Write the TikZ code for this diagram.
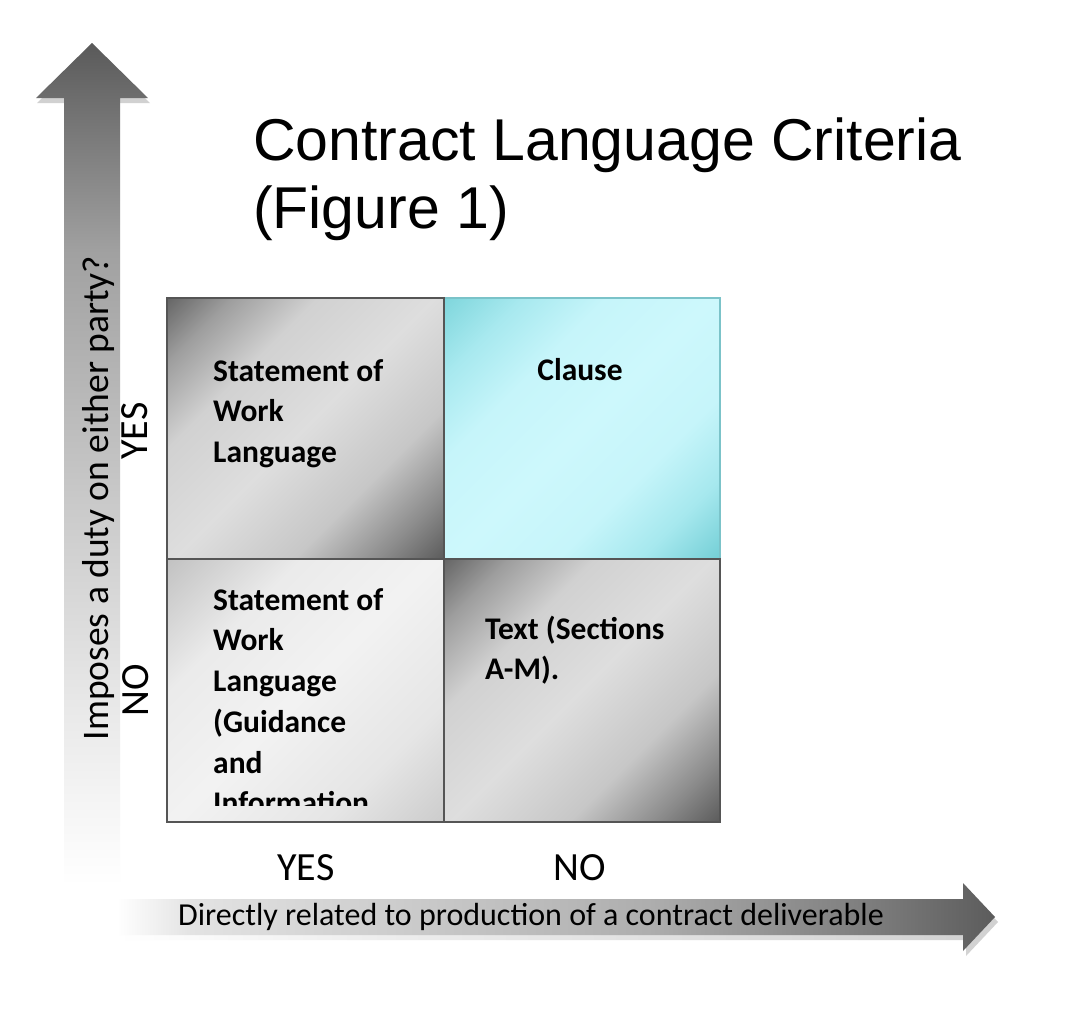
\documentclass[tikz,border=0pt]{standalone}
\usepackage{fontspec}
\setmainfont{Carlito}
\newfontfamily\titlefont{Liberation Sans}

\definecolor{vA}{gray}{0.91}
\definecolor{vB}{gray}{0.79}
\definecolor{vC}{gray}{0.63}
\definecolor{vD}{gray}{0.43}
\definecolor{vE}{gray}{0.35}
\definecolor{hA}{gray}{0.89}
\definecolor{hB}{gray}{0.80}
\definecolor{hC}{gray}{0.68}
\definecolor{hD}{gray}{0.48}
\definecolor{hE}{gray}{0.36}
\definecolor{sA}{gray}{0.93}
\definecolor{sB}{gray}{0.82}
\definecolor{g0}{gray}{0.36}
\definecolor{g1}{gray}{0.55}
\definecolor{g2}{gray}{0.78}
\definecolor{g3}{gray}{0.87}
\definecolor{g4}{gray}{0.82}
\definecolor{g5}{gray}{0.62}
\definecolor{g6}{gray}{0.40}
\definecolor{l0}{gray}{0.80}
\definecolor{l1}{gray}{0.90}
\definecolor{l2}{gray}{0.95}
\definecolor{l3}{gray}{0.92}
\definecolor{l4}{gray}{0.76}
\definecolor{c0}{HTML}{74CFD6}
\definecolor{c1}{HTML}{A6E8EE}
\definecolor{c2}{HTML}{C6F5FA}
\definecolor{c3}{HTML}{CDF8FC}
\definecolor{c4}{HTML}{A8E9EF}
\definecolor{c5}{HTML}{7FD6DC}
\definecolor{tealborder}{HTML}{7BC3C9}
\definecolor{cellborder}{HTML}{555555}
\definecolor{headshadow}{gray}{0.82}

\pgfdeclareverticalshading{varrowshade}{100bp}{color(0bp)=(white); color(25bp)=(white); color(35.8bp)=(vA); color(47.7bp)=(vB); color(62.6bp)=(vC); color(71.7bp)=(vD); color(75bp)=(vE); color(100bp)=(vE)}
\pgfdeclarehorizontalshading{harrowshade}{100bp}{color(0bp)=(white); color(25bp)=(white); color(29.2bp)=(hA); color(41.1bp)=(hB); color(55.4bp)=(hC); color(68.5bp)=(hD); color(75bp)=(hE); color(100bp)=(hE)}
\pgfdeclarehorizontalshading{hshadowshade}{100bp}{color(0bp)=(white); color(25bp)=(white); color(40bp)=(sA); color(75bp)=(sB); color(100bp)=(sB)}
\pgfdeclareverticalshading{grayshade}{100bp}{color(0bp)=(g0); color(14.6bp)=(g0); color(23.1bp)=(g1); color(34.4bp)=(g2); color(50bp)=(g3); color(65.6bp)=(g4); color(76.9bp)=(g5); color(85.4bp)=(g6); color(100bp)=(g6)}
\pgfdeclareverticalshading{lightshade}{100bp}{color(0bp)=(l0); color(14.6bp)=(l0); color(30bp)=(l1); color(50bp)=(l2); color(68bp)=(l3); color(85.4bp)=(l4); color(100bp)=(l4)}
\pgfdeclareverticalshading{cyanshade}{100bp}{color(0bp)=(c0); color(14.6bp)=(c0); color(25bp)=(c1); color(36bp)=(c2); color(50bp)=(c3); color(64bp)=(c2); color(75bp)=(c4); color(85.4bp)=(c5); color(100bp)=(c5)}

\newcommand\tstrut[1]{\rule{0pt}{#1}}

\tikzset{
  graycell/.style={shading=grayshade, shading angle=45, draw=cellborder, line width=2.5pt},
  lightcell/.style={shading=lightshade, shading angle=45, draw=cellborder, line width=2.5pt},
  cyancell/.style={shading=cyanshade, shading angle=45, draw=tealborder, line width=2pt},
  celltext/.style={font=\fontsize{31.5}{40.7}\selectfont\bfseries, align=left, anchor=north west, inner sep=0pt},
  axisvalue/.style={font=\fontsize{40}{48}\selectfont, inner sep=0pt},
  axislabel/.style={font=\fontsize{37.5}{45}\selectfont, inner sep=0pt},
  titletext/.style={font=\titlefont\fontsize{59}{68}\selectfont, align=left, anchor=north west, inner sep=0pt}
}

\begin{document}
\begin{tikzpicture}[x=1pt,y=-1pt]
\useasboundingbox[fill=white] (0,0) rectangle (1088,1012);

% vertical arrow
\fill[headshadow] (93,48) -- (150,103) -- (37,103) -- cycle;
\shade[shading=varrowshade] (92,43) -- (148,98) -- (120,98) -- (120,885) -- (64,885) -- (64,98) -- (36,98) -- cycle;

% horizontal arrow
\shade[shading=hshadowshade] (117,904) -- (966,904) -- (966,888) -- (998,922) -- (966,956) -- (966,940) -- (117,940) -- cycle;
\shade[shading=harrowshade] (117,899) -- (963,899) -- (963,883) -- (995,917) -- (963,951) -- (963,935) -- (117,935) -- cycle;

% title
\node[titletext] (title) at (253,110) {\tstrut{50pt}Contract Language Criteria\\(Figure 1)};

% cells
\shade[cyancell] (444,298) rectangle (720,559);
\shade[graycell] (167,298) rectangle (444,559);
\shade[lightcell] (167,559) rectangle (444,822);
\shade[graycell] (444,559) rectangle (720,822);

\node[celltext] (sow) at (213,353) {\tstrut{28pt}Statement of\\Work\\Language};
\node[celltext, anchor=north] (clause) at (580,352) {\tstrut{28pt}Clause};
\begin{scope}
  \clip (169,561) rectangle (442,805);
  \node[celltext] (sowguide) at (213,582) {\tstrut{28pt}Statement of\\Work\\Language\\(Guidance\\and\\Information};
\end{scope}
\node[celltext] (textam) at (485,611) {\tstrut{28pt}Text (Sections\\A-M).};

% axis values
\node[axisvalue, anchor=base] (yesx) at (306,880) {YES};
\node[axisvalue, anchor=base] (nox) at (580,880) {NO};
\node[axisvalue, anchor=base, rotate=90] (yesy) at (147,431) {YES};
\node[axisvalue, anchor=base, rotate=90] (noy) at (148,690) {NO};

% axis labels
\node[axislabel, anchor=base, rotate=90] (ylabel) at (108,498) {Imposes a duty on either party?};
\node[font=\fontsize{32}{38}\selectfont, inner sep=0pt, anchor=base] (xlabel) at (531,925) {Directly related to production of a contract deliverable};
\end{tikzpicture}
\end{document}
